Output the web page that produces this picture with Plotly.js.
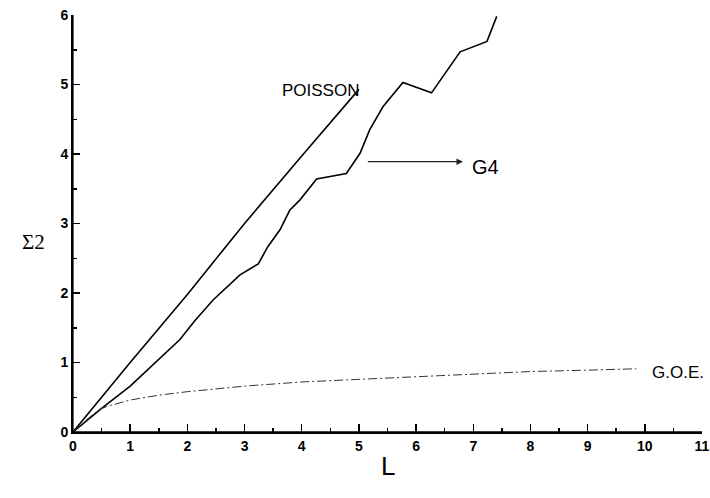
<!DOCTYPE html>
<html>
<head>
<meta charset="utf-8">
<script src="https://cdn.plot.ly/plotly-3.0.1.min.js"></script>
<style>html,body{margin:0;padding:0;background:#fff;}</style>
</head>
<body>
<div id="chart" style="width:710px;height:498px;"></div>
<script>
// Poisson reference
const poissonL = [0, 1, 2, 3, 4, 5.0];
const poissonS = [0, 1.0, 1.98, 3.0, 3.97, 4.93];

// G4 data
const g4L = [0, 0.5, 1.0, 1.46, 1.87, 2.13, 2.45, 2.92, 3.24, 3.41, 3.62, 3.79, 3.97, 4.26, 4.78, 5.02, 5.19, 5.42, 5.77, 6.27, 6.77, 7.24, 7.41];
const g4S = [0, 0.34, 0.66, 1.01, 1.33, 1.60, 1.90, 2.26, 2.42, 2.67, 2.91, 3.19, 3.34, 3.64, 3.72, 4.01, 4.35, 4.68, 5.03, 4.88, 5.47, 5.62, 5.98];

// G.O.E. curve
const goeL = [0, 0.2, 0.45, 0.6, 1, 1.5, 2, 2.8, 3, 4, 5, 6, 7, 8, 9, 9.85];
const goeS = [0, 0.15, 0.32, 0.37, 0.46, 0.53, 0.58, 0.64, 0.66, 0.72, 0.76, 0.80, 0.83, 0.87, 0.89, 0.91];

// labels
const xTicks = [0,1,2,3,4,5,6,7,8,9,10,11];
const yTicks = [0,1,2,3,4,5,6];

const traces = [
  {x: poissonL, y: poissonS, mode: 'lines', line: {color: '#000', width: 1.6}, name: 'POISSON'},
  {x: g4L, y: g4S, mode: 'lines', line: {color: '#000', width: 1.6}, name: 'G4'},
  {x: goeL, y: goeS, mode: 'lines', line: {color: '#333', width: 1, dash: '9px,3px,2px,3px'}, name: 'G.O.E.'}
];

const tickFont = {family: 'Liberation Sans, Arial, sans-serif', size: 14, color: '#000', weight: 'bold'};

const layout = {
  width: 710, height: 498,
  margin: {l: 73, r: 8, t: 15, b: 66},
  paper_bgcolor: '#fff', plot_bgcolor: '#fff',
  showlegend: false,
  xaxis: {
    range: [0, 11], tickvals: xTicks, ticktext: xTicks.map(String),
    showgrid: false, zeroline: false, showline: true, linecolor: '#000', linewidth: 2,
    ticks: 'inside', ticklen: 8, tickwidth: 1.5, tickcolor: '#000',
    minor: {ticks: 'inside', ticklen: 4, dtick: 0.5, tick0: 0, tickcolor: '#000', tickwidth: 1.5, showgrid: false},
    tickfont: tickFont, fixedrange: true
  },
  yaxis: {
    range: [0, 6], tickvals: yTicks, ticktext: yTicks.map(String),
    showgrid: false, zeroline: false, showline: true, linecolor: '#000', linewidth: 2,
    ticks: 'inside', ticklen: 7, tickwidth: 1.5, tickcolor: '#000',
    minor: {ticks: 'inside', ticklen: 4, dtick: 0.5, tick0: 0, tickcolor: '#000', tickwidth: 1.5, showgrid: false},
    tickfont: tickFont, fixedrange: true
  },
  shapes: [
    {type: 'line', xref: 'paper', yref: 'paper', x0: -0.001, x1: -0.001, y0: 0, y1: 1, line: {color: '#000', width: 2.5}, layer: 'above'},
    {type: 'line', xref: 'paper', yref: 'paper', x0: 0, x1: 1, y0: -0.001, y1: -0.001, line: {color: '#000', width: 2.5}, layer: 'above'}
  ],
  annotations: [
    {x: 5.5, y: -0.122, xref: 'x', yref: 'paper', text: 'L', showarrow: false,
     font: {family: 'Liberation Sans, Arial, sans-serif', size: 26, color: '#000'}},
    {x: -0.084, y: 0.456, xref: 'paper', yref: 'paper', text: 'Σ2', showarrow: false,
     font: {family: 'Liberation Serif, Times New Roman, serif', size: 21, color: '#000'}},
    {x: 3.62, y: 4.92, xref: 'x', yref: 'y', text: 'POISSON', showarrow: false, xanchor: 'left',
     font: {family: 'Liberation Sans, Arial, sans-serif', size: 17, color: '#000'}},
    {x: 6.94, y: 3.81, xref: 'x', yref: 'y', text: 'G4', showarrow: false, xanchor: 'left',
     font: {family: 'Liberation Sans, Arial, sans-serif', size: 20, color: '#000'}},
    {x: 6.82, y: 3.89, xref: 'x', yref: 'y', ax: 5.13, ay: 3.89, axref: 'x', ayref: 'y',
     text: '', showarrow: true, arrowhead: 2, arrowsize: 1, arrowwidth: 1.3, arrowcolor: '#222'},
    {x: 10.09, y: 0.86, xref: 'x', yref: 'y', text: 'G.O.E.', showarrow: false, xanchor: 'left',
     font: {family: 'Liberation Sans, Arial, sans-serif', size: 17, color: '#000'}}
  ]
};

Plotly.newPlot('chart', traces, layout, {staticPlot: true, displayModeBar: false});
</script>
</body>
</html>
